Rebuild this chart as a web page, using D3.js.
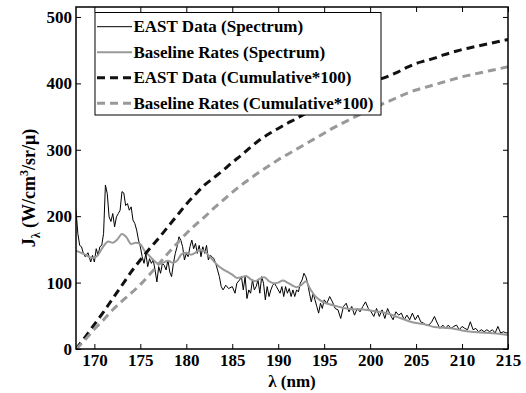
<!DOCTYPE html>
<html><head><meta charset="utf-8">
<script src="https://cdn.jsdelivr.net/npm/d3@7"></script>
<style>body{margin:0;background:#fff}svg{display:block}svg text{font-family:"Liberation Serif","DejaVu Serif",serif !important;font-weight:bold;fill:#000}</style>
</head><body>
<svg id="chart" width="526" height="393"></svg>
<script>
// ---- data ----
const eastLambda = [168.0,168.2,168.4,168.6,168.8,169.0,169.3,169.6,169.8,170.0,170.2,170.4,170.6,170.8,171.0,171.2,171.4,171.6,171.8,172.0,172.2,172.4,172.6,172.8,173.0,173.2,173.4,173.6,173.8,174.0,174.2,174.4,174.6,174.8,175.0,175.2,175.4,175.6,175.8,176.0,176.2,176.4,176.6,176.8,177.0,177.2,177.4,177.6,177.8,178.0,178.2,178.4,178.6,178.8,179.0,179.2,179.4,179.6,179.8,180.0,180.2,180.4,180.6,180.8,181.0,181.2,181.4,181.6,181.8,182.0,182.2,182.4,182.6,182.8,183.0,183.2,183.4,183.6,183.8,184.0,184.3,184.6,185.0,185.3,185.5,185.8,186.0,186.2,186.4,186.6,186.8,187.0,187.2,187.4,187.6,187.8,188.0,188.2,188.4,188.6,188.8,189.0,189.2,189.4,189.6,189.8,190.0,190.2,190.4,190.6,190.8,191.0,191.2,191.4,191.6,191.8,192.0,192.2,192.4,192.6,192.8,193.0,193.2,193.4,193.6,193.8,194.0,194.2,194.4,194.6,194.8,195.0,195.3,195.6,195.9,196.2,196.5,196.8,197.1,197.4,197.7,198.0,198.3,198.6,198.9,199.2,199.5,199.8,200.1,200.4,200.7,201.0,201.3,201.6,201.9,202.2,202.5,202.8,203.1,203.4,203.7,204.0,204.3,204.6,204.9,205.2,205.5,205.8,206.1,206.4,206.7,207.0,207.3,207.6,207.9,208.2,208.5,208.8,209.1,209.4,209.7,210.0,210.3,210.6,210.9,211.2,211.5,211.8,212.1,212.4,212.7,213.0,213.3,213.6,213.9,214.2,214.5,214.8,215.0];
const eastSpectrum = [209,174,156,154,144,139,145,131,141,131,151,141,154,156,174,247,234,199,192,204,184,199,204,209,237,235,216,219,209,214,194,189,179,164,154,139,129,144,124,136,129,134,119,101,124,114,129,126,119,134,116,109,129,144,154,169,164,154,134,144,139,154,164,151,159,144,156,139,154,144,156,134,141,139,136,129,119,109,94,89,96,91,94,84,99,104,109,89,109,76,89,84,104,89,94,104,84,109,99,74,94,79,89,96,99,94,89,84,94,79,94,84,91,79,89,79,89,86,99,104,114,109,99,84,71,84,74,64,54,69,61,74,69,79,71,61,59,46,64,69,56,64,51,61,56,64,71,61,56,49,61,49,59,46,61,51,44,56,51,54,44,51,44,54,44,51,41,39,36,36,41,49,39,31,36,31,36,31,34,36,29,34,31,29,41,29,31,26,29,26,29,26,29,24,34,24,26,24,25];

const baseLambda = [168,169,169.8,170.3,171,171.5,172,172.5,173,173.5,174,174.5,175,175.5,176,176.5,177,177.5,178,178.5,179,179.5,180,180.5,181,181.5,182,182.5,183,183.5,184,184.5,185,185.5,186,186.5,187,187.5,188,188.5,189,189.5,190,190.5,191,191.5,192,192.5,193,193.5,194,194.5,195,196,197,198,199,200,201,202,203,204,205,206,207,208,209,210,211,212,213,214,215];
const baseSpectrum = [148,142,137,140,155,162,160,165,173,168,158,160,158,147,140,133,128,130,133,130,133,143,145,142,145,150,147,140,132,125,120,116,112,107,108,110,105,102,106,108,102,99,100,103,100,96,93,96,102,90,80,74,70,66,62,60,60,58,56,53,48,43,39,37,33,32,31,28,26,25,24,23,21];

const cumLambda = [168,169,170,171,172,173,174,175,176,177,178,179,180,181,182,183,184,185,186,187,188,189,190,191,192,193,194,195,196,197,198,199,200,201,202,203,204,205,206,207,208,209,210,211,212,213,214,215];
const eastCumulative = [0,18,37,56,76,96,116,134,151,167,184,201,218,233,247,258,269,281,292,304,315,324,332,340,347,355,362,370,377,384,390,396,401,406,411,417,424,430,434,438,443,447,451,454,457,460,463,466];
const baseCumulative = [0,14,30,44,59,72,84,97,112,128,144,159,174,187,199,212,224,236,247,257,267,276,285,293,301,309,317,325,333,340,347,354,361,367,373,379,385,390,394,398,402,406,410,413,416,419,422,425];

const xTicks = [170,175,180,185,190,195,200,205,210,215];
const yTicks = [0,100,200,300,400,500];
const legendLabels = ["EAST Data (Spectrum)","Baseline Rates (Spectrum)","EAST Data (Cumulative*100)","Baseline Rates (Cumulative*100)"];

// ---- chart ----
const FONT = '"Liberation Serif","DejaVu Serif",serif';
const svg = d3.select("#chart");
const L = 76, R = 508, T = 7, B = 349;
const x = d3.scaleLinear().domain([168,215]).range([L,R]);
const y = d3.scaleLinear().domain([0,515]).range([B,T]);

svg.append("clipPath").attr("id","clip").append("rect")
  .attr("x",L).attr("y",T).attr("width",R-L).attr("height",B-T);

const series = [
  {lx: eastLambda, v: eastSpectrum, color:"#000", w:1, dash:null, curve:d3.curveLinear},
  {lx: baseLambda, v: baseSpectrum, color:"#999", w:2, dash:null, curve:d3.curveMonotoneX},
  {lx: cumLambda, v: eastCumulative, color:"#111", w:3, dash:"8,5", curve:d3.curveMonotoneX},
  {lx: cumLambda, v: baseCumulative, color:"#999", w:3, dash:"8,5", curve:d3.curveMonotoneX}
];
const g = svg.append("g").attr("clip-path","url(#clip)");
series.forEach(s => {
  const line = d3.line().x((d,i)=>x(s.lx[i])).y(d=>y(d)).curve(s.curve);
  g.append("path").attr("d", line(s.v)).attr("fill","none")
    .attr("stroke", s.color).attr("stroke-width", s.w)
    .attr("stroke-dasharray", s.dash).attr("stroke-linejoin","round");
});

// axes
const fs = 17;
const axB = svg.append("g").attr("transform",`translate(0,${B})`)
  .call(d3.axisBottom(x).tickValues(xTicks).tickSize(-5).tickPadding(5).tickFormat(d3.format("d")));
const axT = svg.append("g").attr("transform",`translate(0,${T})`)
  .call(d3.axisTop(x).tickValues(xTicks).tickSize(-5).tickFormat(""));
const axL = svg.append("g").attr("transform",`translate(${L},0)`)
  .call(d3.axisLeft(y).tickValues(yTicks).tickSize(-5).tickPadding(4).tickFormat(d3.format("d")));
const axR = svg.append("g").attr("transform",`translate(${R},0)`)
  .call(d3.axisRight(y).tickValues(yTicks).tickSize(-5).tickFormat(""));
[axB,axT,axL,axR].forEach(a => {
  a.attr("font-family", FONT).attr("font-size", fs);
  a.select(".domain").remove();
  a.selectAll(".tick line").attr("stroke","#000").attr("stroke-width",1);
  a.selectAll("text").style("font-family",FONT).style("font-size",fs+"px").style("font-weight","bold").attr("fill","#000");
});
svg.append("rect").attr("x",L).attr("y",T).attr("width",R-L).attr("height",B-T)
  .attr("fill","none").attr("stroke","#000").attr("stroke-width",1.5);

// axis titles
svg.append("text").attr("x",(L+R)/2).attr("y",387).attr("text-anchor","middle")
  .style("font-family",FONT).style("font-size","17px").text("λ (nm)");
const yl = svg.append("text").attr("transform",`translate(35,${(T+B)/2+10}) rotate(-90)`)
  .attr("text-anchor","middle").style("font-family",FONT).style("font-size","18px");
yl.append("tspan").text("J");
yl.append("tspan").style("font-size","12px").attr("dy",5).text("λ");
yl.append("tspan").attr("dy",-5).text(" (W/cm");
yl.append("tspan").style("font-size","12px").attr("dy",-7).text("3");
yl.append("tspan").attr("dy",7).text("/sr/μ)");

// legend
const lg = svg.append("g");
lg.append("rect").attr("x",95).attr("y",12.5).attr("width",286).attr("height",102.5)
  .attr("fill","#fff").attr("stroke","#000").attr("stroke-width",1);
const rowY = [26.7,52.3,77.7,103.3];
legendLabels.forEach((lab,i) => {
  const s = series[i];
  lg.append("line").attr("x1",97).attr("x2",132).attr("y1",rowY[i]).attr("y2",rowY[i])
    .attr("stroke",s.color).attr("stroke-width",s.w).attr("stroke-dasharray",s.dash);
  lg.append("text").attr("x",133.5).attr("y",rowY[i]).attr("dy","0.33em")
    .style("font-family",FONT).style("font-size",fs+"px").text(lab);
});
</script>
</body></html>
